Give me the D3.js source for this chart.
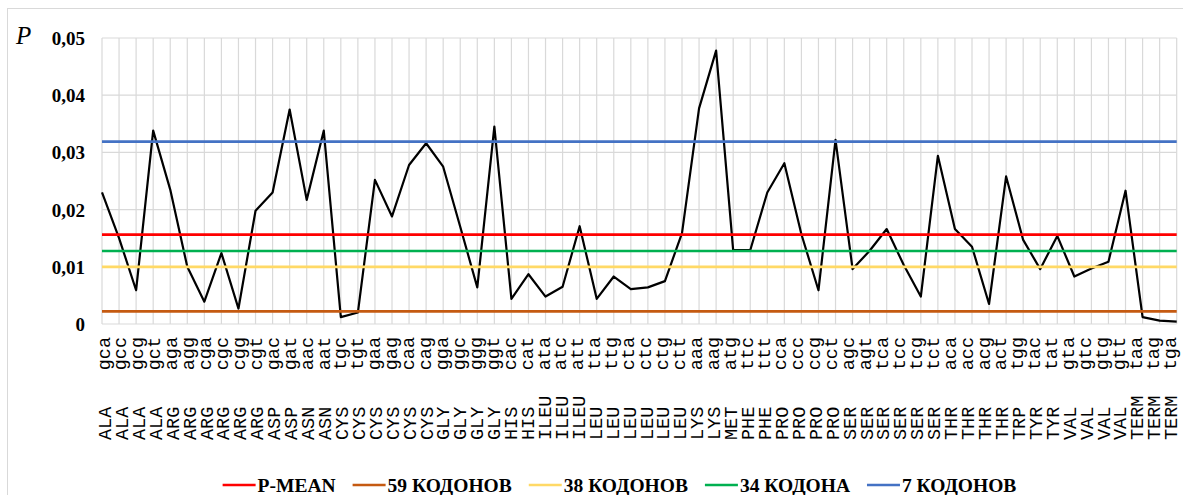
<!DOCTYPE html>
<html>
<head>
<meta charset="utf-8">
<script src="https://cdn.jsdelivr.net/npm/d3@7"></script>
<style>
  html, body { margin: 0; padding: 0; background: #ffffff; }
  svg { display: block; }
</style>
</head>
<body>
<div id="chart"></div>
<script>
// ---------- DATA ----------
const codons = ["gca","gcc","gcg","gct","aga","agg","cga","cgc","cgg","cgt","gac","gat","aac","aat","tgc","tgt",
  "gaa","gag","caa","cag","gga","ggc","ggg","ggt","cac","cat","ata","atc","att","tta","ttg","cta","ctc","ctg","ctt",
  "aaa","aag","atg","ttc","ttt","cca","ccc","ccg","cct","agc","agt","tca","tcc","tcg","tct","aca","acc","acg","act",
  "tgg","tac","tat","gta","gtc","gtg","gtt","taa","tag","tga"];

const aminoAcids = ["ALA","ALA","ALA","ALA","ARG","ARG","ARG","ARG","ARG","ARG","ASP","ASP","ASN","ASN","CYS","CYS",
  "CYS","CYS","CYS","CYS","GLY","GLY","GLY","GLY","HIS","HIS","ILEU","ILEU","ILEU","LEU","LEU","LEU","LEU","LEU","LEU",
  "LYS","LYS","MET","PHE","PHE","PRO","PRO","PRO","PRO","SER","SER","SER","SER","SER","SER","THR","THR","THR","THR",
  "TRP","TYR","TYR","VAL","VAL","VAL","VAL","TERM","TERM","TERM"];

const pValues = [0.0230,0.0150,0.0059,0.0338,0.0235,0.0100,0.0039,0.0124,0.0027,0.0198,0.0230,0.0375,0.0217,0.0338,0.0012,0.0020,
  0.0252,0.0188,0.0278,0.0316,0.0275,0.0170,0.0064,0.0345,0.0044,0.0087,0.0048,0.0065,0.0171,0.0044,0.0083,0.0061,0.0064,0.0075,0.0159,
  0.0377,0.0478,0.0129,0.0129,0.0230,0.0281,0.0157,0.0059,0.0322,0.0096,0.0128,0.0166,0.0103,0.0048,0.0294,0.0166,0.0135,0.0035,0.0258,
  0.0147,0.0096,0.0154,0.0083,0.0097,0.0109,0.0233,0.0012,0.0006,0.0004];

const refNames  = ["P-MEAN","59 КОДОНОВ","38 КОДОНОВ","34 КОДОНА","7 КОДОНОВ"];
const refValues = [0.015625, 0.0022, 0.0100, 0.01276, 0.0319];
const refColors = ["#FF0000","#C55A11","#FFD966","#00B050","#4472C4"];

const yTicks = [0, 0.01, 0.02, 0.03, 0.04, 0.05];
const yTickLabels = ["0","0,01","0,02","0,03","0,04","0,05"];
const yAxisTitle = "P";

// ---------- LAYOUT ----------
const W = 1183, H = 495;
const plot = {left: 102, right: 1176.7, top: 38, bottom: 324};

const svg = d3.select("#chart").append("svg").attr("width", W).attr("height", H);

// chart frame
svg.append("rect").attr("x", 7.5).attr("y", 8.5).attr("width", W + 20).attr("height", H + 20)
  .attr("fill", "#ffffff").attr("stroke", "#d9d9d9").attr("stroke-width", 1);

const x = d3.scalePoint().domain(codons).range([plot.left, plot.right]);
const y = d3.scaleLinear().domain([0, 0.05]).range([plot.bottom, plot.top]);

// gridlines
const grid = svg.append("g");
grid.selectAll("line.h").data(yTicks).join("line").attr("class", "h")
  .attr("x1", plot.left).attr("x2", plot.right)
  .attr("y1", d => y(d)).attr("y2", d => y(d))
  .attr("stroke", "#d9d9d9").attr("stroke-width", 1.2);
grid.selectAll("line.v").data(codons).join("line").attr("class", "v")
  .attr("x1", d => x(d)).attr("x2", d => x(d))
  .attr("y1", plot.top).attr("y2", plot.bottom)
  .attr("stroke", "#d9d9d9").attr("stroke-width", 1.2);

// y axis labels
const yAxis = d3.axisLeft(y).tickValues(yTicks).tickFormat((d, i) => yTickLabels[i]).tickSize(0).tickPadding(17);
const gy = svg.append("g").attr("transform", `translate(${plot.left},0)`).call(yAxis);
gy.select(".domain").remove();
gy.selectAll("text").attr("font-family", "'Liberation Serif', 'Times New Roman', serif")
  .attr("font-weight", "bold").attr("font-size", 19).attr("fill", "#000").attr("dy", "0.34em");

svg.append("text").attr("x", 16).attr("y", 43.5).text(yAxisTitle)
  .attr("font-family", "'Liberation Serif', 'Times New Roman', serif")
  .attr("font-style", "italic").attr("font-size", 25).attr("fill", "#000");

// x labels: slight drift of label centres relative to the points (as in the reference)
const labelShift = d3.scaleLinear().domain([0, codons.length - 1]).range([4.5, -4]);
const monoFont = "'Liberation Mono', 'Courier New', monospace";
svg.append("g").selectAll("text").data(codons).join("text")
  .attr("transform", (d, i) => `translate(${x(d) + labelShift(i) + 3},337) rotate(-90)`)
  .attr("text-anchor", "end").attr("font-family", monoFont).attr("font-size", 18.5).attr("fill", "#000")
  .text(d => d);

svg.append("g").selectAll("text").data(codons).join("text")
  .attr("transform", (d, i) => `translate(${x(d) + labelShift(i) + 4.5},440) rotate(-90)`)
  .attr("text-anchor", "start").attr("font-family", monoFont).attr("font-size", 18.5).attr("fill", "#000")
  .text((d, i) => aminoAcids[i]);

// data series
const line = d3.line().x((d, i) => x(codons[i])).y(d => y(d));
svg.append("path").datum(pValues).attr("d", line)
  .attr("fill", "none").attr("stroke", "#000").attr("stroke-width", 2.2).attr("stroke-linejoin", "round");

// reference series (constant per category)
refValues.forEach((v, k) => {
  const series = codons.map(() => v);
  svg.append("path").datum(series).attr("d", line)
    .attr("fill", "none").attr("stroke", refColors[k]).attr("stroke-width", 2.7);
});

// legend
const legend = svg.append("g");
const items = legend.selectAll("g").data(refNames).join("g");
items.append("line").attr("x1", 0).attr("x2", 33).attr("y1", 485).attr("y2", 485)
  .attr("stroke", (d, i) => refColors[i]).attr("stroke-width", 2.7);
items.append("text").attr("x", 35).attr("y", 492).text(d => d)
  .attr("font-family", "'Liberation Serif', 'Times New Roman', serif")
  .attr("font-weight", "bold").attr("font-size", 19.5).attr("fill", "#000");
let offs = [], cur = 0;
items.each(function() {
  const w = 35 + d3.select(this).select("text").node().getComputedTextLength();
  offs.push(cur); cur += w + 17;
});
const total = cur - 17;
const startX = 619.5 - total / 2;
items.attr("transform", (d, i) => `translate(${startX + offs[i]},0)`);
</script>
</body>
</html>
